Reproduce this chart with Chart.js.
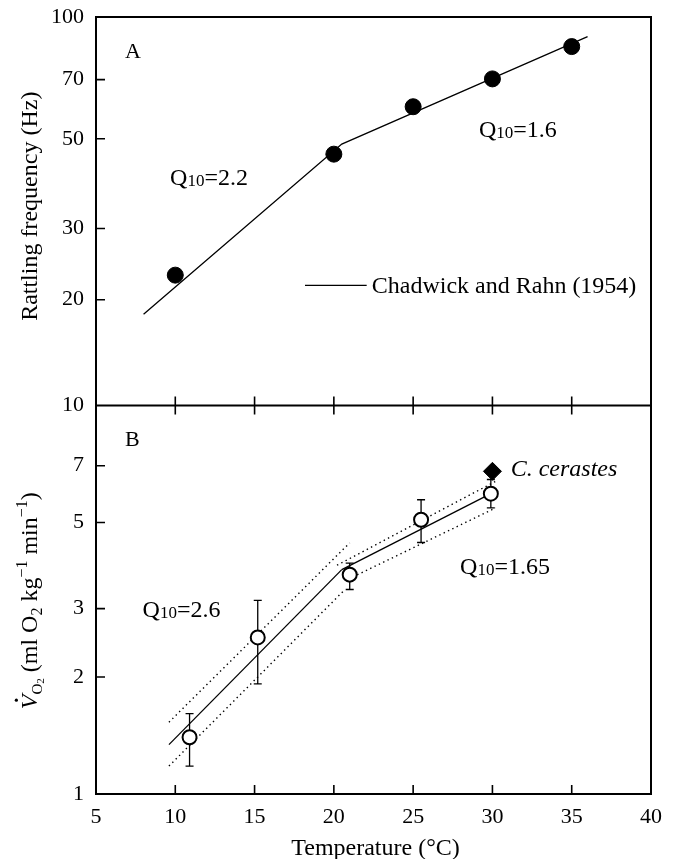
<!DOCTYPE html>
<html lang="en">
  <head>
    <meta charset="UTF-8">
    <title>Rattling frequency and oxygen consumption vs temperature</title>
    <style>
      body { margin: 0; background: #fff; }
      canvas { display: block; }
    </style>
  </head>
  <body>
    <canvas id="chart" width="675" height="859"></canvas>
    <script src="https://cdn.jsdelivr.net/npm/chart.js@4/dist/chart.umd.min.js"></script>
    <script>
      // x axis
      const tempTicks = [5, 10, 15, 20, 25, 30, 35, 40]

      // panel A - rattling frequency (Hz)
      const ticksA = [20, 30, 50, 70, 100]
      const tempA = [10, 20, 25, 30, 35]
      const rattleHz = [23.0, 45.8, 60.0, 70.3, 84.5]
      const chadwickT = [8, 20.5, 36]
      const chadwickHz = [18.4, 48.5, 89.4]

      // panel B - VO2 (ml O2 kg-1 min-1)
      const ticksB = [1, 2, 3, 5, 7, 10]
      const tempB = [10.9, 15.2, 21.0, 25.5, 29.9]
      const vo2 = [1.40, 2.53, 3.67, 5.08, 5.93]
      const vo2Hi = [1.61, 3.15, 3.93, 5.72, 6.45]
      const vo2Lo = [1.18, 1.92, 3.36, 4.44, 5.45]
      const cerastesT = [30]
      const cerastesVo2 = [6.77]
      const fitColdT = [9.6, 20.5]
      const fitCold = [1.34, 3.78]
      const fitWarmT = [20.5, 29.9]
      const fitWarm = [3.78, 5.93]
      const ciColdUpT = [9.6, 21.0]
      const ciColdUp = [1.53, 4.43]
      const ciColdLowT = [9.6, 20.7]
      const ciColdLow = [1.18, 3.36]
      const ciWarmUpT = [20.2, 30.2]
      const ciWarmUp = [3.88, 6.38]
      const ciWarmLowT = [21.2, 30.2]
      const ciWarmLow = [3.62, 5.45]

      const serif = 'Liberation Serif'
      const pts = (xs, ys) => xs.map((x, i) => ({ x, y: ys[i] }))

      // text notes, anchored in data units (left edge, baseline)
      const notes = [
        { axis: 'yA', t: 6.83, v: 79.2, parts: [['A', 22]] },
        { axis: 'yA', t: 9.67, v: 38.5, parts: [['Q', 24], ['10', 17, 1], ['=2.2', 24]] },
        { axis: 'yA', t: 29.15, v: 50.6, parts: [['Q', 24], ['10', 17, 1], ['=1.6', 24]] },
        { axis: 'yA', t: 22.39, v: 20.8, parts: [['Chadwick and Rahn (1954)', 24]] },
        { axis: 'yB', t: 6.83, v: 7.86, parts: [['B', 22]] },
        { axis: 'yB', t: 7.94, v: 2.86, parts: [['Q', 24], ['10', 17, 1], ['=2.6', 24]] },
        { axis: 'yB', t: 27.96, v: 3.69, parts: [['Q', 24], ['10', 17, 1], ['=1.65', 24]] },
        { axis: 'yB', t: 31.15, v: 6.57, parts: [['C. cerastes', 24, 0, true]] },
      ]
      const legendLine = { t0: 18.18, t1: 22.07, v: 21.7 }

      function drawRich(ctx, parts, x, y, align) {
        const font = p => `${p[3] ? 'italic ' : ''}${p[1]}px "${serif}"`
        let total = 0
        for (const p of parts) {
          ctx.font = font(p)
          total += ctx.measureText(p[0]).width
        }
        let cx = align === 'center' ? x - total / 2 : x
        ctx.textAlign = 'left'
        ctx.textBaseline = 'alphabetic'
        for (const p of parts) {
          ctx.font = font(p)
          const w = ctx.measureText(p[0]).width
          ctx.fillText(p[0], cx, y + (p[2] || 0))
          if (p[4] === 'dot') {
            ctx.beginPath()
            ctx.arc(cx + w * 0.62, y - p[1] * 0.86, 1.6, 0, Math.PI * 2)
            ctx.fill()
          }
          cx += w
        }
      }

      const figurePlugin = {
        id: 'figure',
        beforeDatasetsDraw(chart) {
          const { ctx } = chart
          const x = chart.scales.x
          const y = chart.scales.yB
          ctx.save()
          ctx.strokeStyle = '#000'
          ctx.lineWidth = 1.3
          tempB.forEach((t, i) => {
            const px = x.getPixelForValue(t)
            const top = y.getPixelForValue(vo2Hi[i])
            const bot = y.getPixelForValue(vo2Lo[i])
            ctx.beginPath()
            ctx.moveTo(px, top)
            ctx.lineTo(px, bot)
            ctx.moveTo(px - 4, top)
            ctx.lineTo(px + 4, top)
            ctx.moveTo(px - 4, bot)
            ctx.lineTo(px + 4, bot)
            ctx.stroke()
          })
          ctx.restore()
        },
        afterDraw(chart) {
          const { ctx, chartArea: area } = chart
          const { x, yA, yB } = chart.scales
          const mid = yA.bottom
          ctx.save()
          ctx.strokeStyle = '#000'
          ctx.fillStyle = '#000'

          // frame and panel divider
          ctx.lineWidth = 2
          ctx.strokeRect(area.left, area.top, area.right - area.left, area.bottom - area.top)
          ctx.beginPath()
          ctx.moveTo(area.left, mid)
          ctx.lineTo(area.right, mid)
          ctx.stroke()

          // inward tick marks
          ctx.lineWidth = 1.6
          ctx.beginPath()
          for (const t of tempTicks.slice(1, -1)) {
            const px = x.getPixelForValue(t)
            ctx.moveTo(px, area.bottom)
            ctx.lineTo(px, area.bottom - 9)
            ctx.moveTo(px, mid - 9)
            ctx.lineTo(px, mid + 9)
          }
          for (const v of ticksA.slice(0, -1)) {
            const py = yA.getPixelForValue(v)
            ctx.moveTo(area.left, py)
            ctx.lineTo(area.left + 9, py)
          }
          for (const v of ticksB.slice(1, -1)) {
            const py = yB.getPixelForValue(v)
            ctx.moveTo(area.left, py)
            ctx.lineTo(area.left + 9, py)
          }
          ctx.stroke()

          // legend line for the Chadwick and Rahn curve
          ctx.lineWidth = 1.4
          ctx.beginPath()
          const ly = yA.getPixelForValue(legendLine.v)
          ctx.moveTo(x.getPixelForValue(legendLine.t0), ly)
          ctx.lineTo(x.getPixelForValue(legendLine.t1), ly)
          ctx.stroke()

          for (const n of notes) {
            const s = chart.scales[n.axis]
            drawRich(ctx, n.parts, x.getPixelForValue(n.t), s.getPixelForValue(n.v), 'left')
          }

          // axis titles
          drawRich(ctx, [['Temperature (°C)', 24]], (area.left + area.right) / 2 + 2, area.bottom + 61, 'center')

          ctx.save()
          ctx.translate(37, (yA.top + yA.bottom) / 2 - 5)
          ctx.rotate(-Math.PI / 2)
          drawRich(ctx, [['Rattling frequency (Hz)', 24]], 0, 0, 'center')
          ctx.restore()

          ctx.save()
          ctx.translate(37, (yB.top + yB.bottom) / 2 + 1)
          ctx.rotate(-Math.PI / 2)
          drawRich(ctx, [
            ['V', 24, 0, true, 'dot'], ['O', 15, 5], ['2', 11, 7],
            [' (ml O', 24], ['2', 16, 5], [' kg', 24], ['\u22121', 16, -10],
            [' min', 24], ['\u22121', 16, -10], [')', 24],
          ], 0, 0, 'center')
          ctx.restore()

          ctx.restore()
        },
      }

      const tickFont = { family: serif, size: 22 }
      const noGrid = { display: false, drawTicks: false }
      const yAxis = (min, max, ticks, weight) => ({
        type: 'logarithmic',
        position: 'left',
        stack: 'panels',
        stackWeight: 1,
        weight,
        min,
        max,
        afterBuildTicks: s => { s.ticks = ticks.map(v => ({ value: v })) },
        afterFit: s => {
          s.width = 96
          s.paddingTop = 0
          s.paddingBottom = 0
        },
        ticks: { font: tickFont, color: '#000', padding: 12, callback: v => String(v) },
        grid: noGrid,
        border: { display: false },
      })

      const line = (data, axis, dashed) => ({
        data,
        yAxisID: axis,
        showLine: true,
        borderColor: '#000',
        borderWidth: dashed ? 1.4 : 1.3,
        borderDash: dashed ? [1.4, 3.4] : [],
        pointRadius: 0,
        order: 2,
      })

      new Chart(document.getElementById('chart'), {
        type: 'scatter',
        data: {
          datasets: [
            line(pts(chadwickT, chadwickHz), 'yA'),
            line(pts(fitColdT, fitCold), 'yB'),
            line(pts(fitWarmT, fitWarm), 'yB'),
            line(pts(ciColdUpT, ciColdUp), 'yB', true),
            line(pts(ciColdLowT, ciColdLow), 'yB', true),
            line(pts(ciWarmUpT, ciWarmUp), 'yB', true),
            line(pts(ciWarmLowT, ciWarmLow), 'yB', true),
            {
              data: pts(tempA, rattleHz),
              yAxisID: 'yA',
              pointRadius: 8,
              pointBackgroundColor: '#000',
              pointBorderColor: '#000',
              order: 0,
            },
            {
              data: pts(tempB, vo2),
              yAxisID: 'yB',
              pointRadius: 7,
              pointBorderWidth: 2,
              pointBackgroundColor: '#fff',
              pointBorderColor: '#000',
              order: 0,
            },
            {
              data: pts(cerastesT, cerastesVo2),
              yAxisID: 'yB',
              pointStyle: 'rectRot',
              pointRadius: 9,
              pointBackgroundColor: '#000',
              pointBorderColor: '#000',
              order: 0,
            },
          ],
        },
        options: {
          responsive: false,
          animation: false,
          layout: { padding: { top: 17, right: 24, left: 0, bottom: 0 } },
          plugins: { legend: { display: false }, tooltip: { enabled: false } },
          scales: {
            x: {
              type: 'linear',
              min: 5,
              max: 40,
              afterBuildTicks: s => { s.ticks = tempTicks.map(v => ({ value: v })) },
              afterFit: s => { s.height = 65 },
              ticks: { font: tickFont, color: '#000', padding: 10, maxRotation: 0 },
              grid: noGrid,
              border: { display: false },
            },
            yB: yAxis(1, 10, ticksB, 1),
            yA: yAxis(10.95, 100, ticksA, 2),
          },
        },
        plugins: [figurePlugin],
      })
    </script>
  </body>
</html>
